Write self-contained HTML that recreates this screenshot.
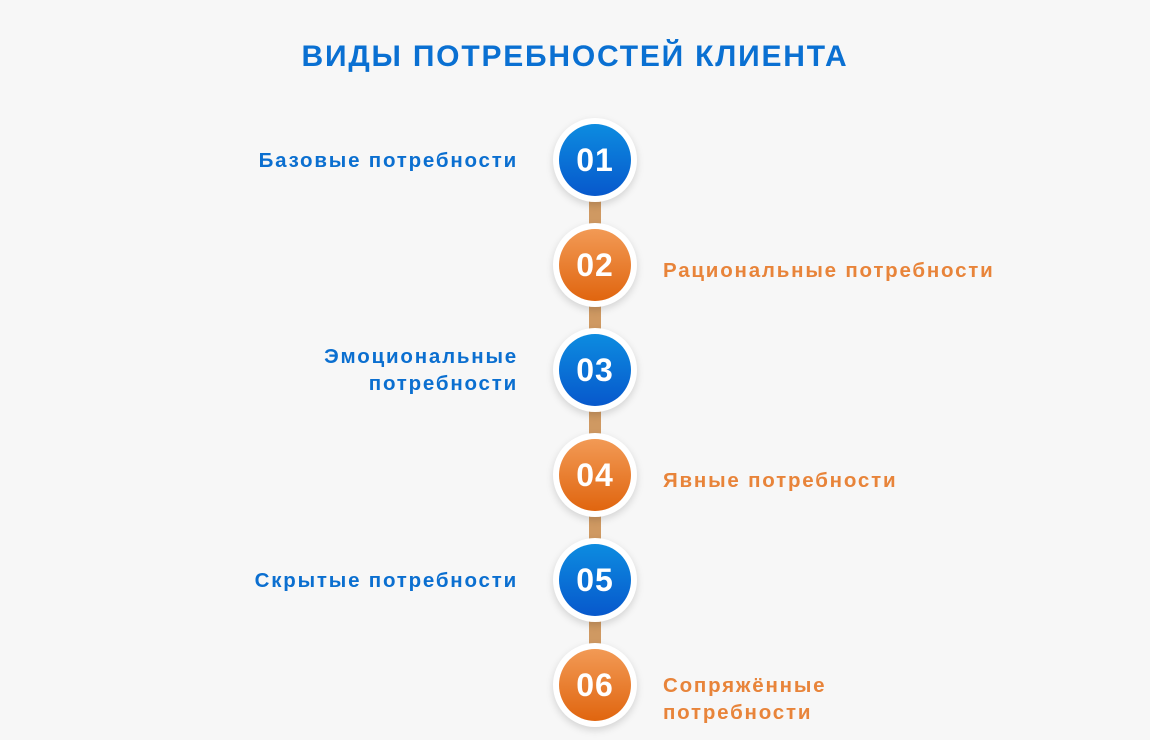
<!DOCTYPE html>
<html><head><meta charset="utf-8"><style>
body{margin:0;width:1150px;height:740px;background:#f7f7f7;position:relative;overflow:hidden;font-family:"Liberation Sans","DejaVu Sans",sans-serif}
.t{position:absolute;left:0;width:1150px;top:40px;text-align:center;font-weight:bold;font-size:30px;color:#0a70d2;letter-spacing:1.8px}
.bar{position:absolute;left:589px;width:12px;background:#cf9962}
.c{position:absolute;left:553px;width:84px;height:84px;border-radius:50%;background:#fff;box-shadow:0 3px 8px rgba(0,0,0,0.15)}
.c div{position:absolute;left:6px;top:6px;width:72px;height:72px;border-radius:50%;color:#fff;font-weight:bold;font-size:32px;line-height:72px;text-align:center;letter-spacing:1px}
.b div{background:linear-gradient(#0d8ce0,#0758cc)}
.o div{background:linear-gradient(#f29a55,#e0650f)}
.l{position:absolute;font-size:20.5px;line-height:27px;font-weight:bold;letter-spacing:1.8px}
.lb{right:632px;text-align:right;color:#0b6fd0}
.ro{left:663px;color:#e8843a}
</style></head><body>
<div class="t">ВИДЫ ПОТРЕБНОСТЕЙ КЛИЕНТА</div>
<div class="bar" style="top:190px;height:480px"></div>
<div class="c b" style="top:118px"><div>01</div></div>
<div class="c o" style="top:223px"><div>02</div></div>
<div class="c b" style="top:328px"><div>03</div></div>
<div class="c o" style="top:433px"><div>04</div></div>
<div class="c b" style="top:538px"><div>05</div></div>
<div class="c o" style="top:643px"><div>06</div></div>
<div class="l lb" style="top:147px">Базовые потребности</div>
<div class="l ro" style="top:257px">Рациональные потребности</div>
<div class="l lb" style="top:343px">Эмоциональные<br>потребности</div>
<div class="l ro" style="top:467px">Явные потребности</div>
<div class="l lb" style="top:567px">Скрытые потребности</div>
<div class="l ro" style="top:672px">Сопряжённые<br>потребности</div>
</body></html>
